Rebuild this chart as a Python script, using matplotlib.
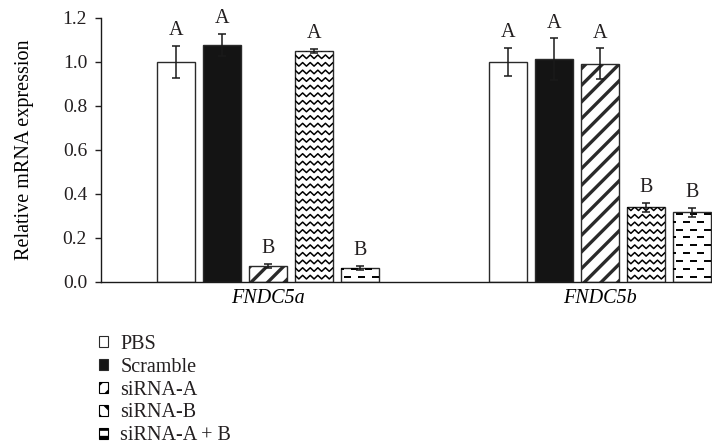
import matplotlib
matplotlib.use("Agg")
import matplotlib.pyplot as plt
import numpy as np
from matplotlib.collections import LineCollection
from matplotlib.patches import Patch

genes = ["FNDC5a", "FNDC5b"]
treatments = ["PBS", "Scramble", "siRNA-A", "siRNA-B", "siRNA-A + B"]

# mean relative expression, one value per gene
means = {
    "PBS": [1.000, 1.000],
    "Scramble": [1.077, 1.012],
    "siRNA-A": [0.073, 0.992],
    "siRNA-B": [1.051, 0.339],
    "siRNA-A + B": [0.064, 0.316],
}
errors = {
    "PBS": [0.074, 0.065],
    "Scramble": [0.052, 0.096],
    "siRNA-A": [0.009, 0.070],
    "siRNA-B": [0.009, 0.020],
    "siRNA-A + B": [0.009, 0.020],
}
letters = {
    "PBS": ["A", "A"],
    "Scramble": ["A", "A"],
    "siRNA-A": ["B", "A"],
    "siRNA-B": ["A", "B"],
    "siRNA-A + B": ["B", "B"],
}

TEXT = "#231f20"
EDGE = "#2a2a2a"
FS = 14.5
plt.rcParams["font.family"] = ["Liberation Serif", "DejaVu Serif"]
plt.rcParams["font.size"] = FS
plt.rcParams["hatch.linewidth"] = 2.4
plt.rcParams["text.color"] = TEXT

fig = plt.figure(figsize=(7.12, 4.48), dpi=100)
ax = fig.add_axes([101 / 712, 1 - 281.7 / 448, 611 / 712, 263.7 / 448])
ax.set_xlim(-0.503, 1.337)
ax.set_ylim(0, 1.2)

# pixels per data unit, used to size the fill textures
p0 = ax.transData.transform((0, 0))
p1 = ax.transData.transform((1, 1))
sx, sy = p1 - p0


def zigzag_fill(bar, period=7.6, amp=3.6, gap=7.6):
    x0, w, h = bar.get_x(), bar.get_width(), bar.get_height()
    half = period / 2 / sx
    xs = np.arange(x0 - 2 * half, x0 + w + 2 * half, half)
    segs = []
    base = gap * 0.6 / sy
    while base < h + gap / sy:
        ys = base + np.where(np.arange(len(xs)) % 2 == 0, amp / 2, -amp / 2) / sy
        segs.append(np.column_stack([xs, ys]))
        base += gap / sy
    lc = LineCollection(segs, colors="black", linewidths=1.1, zorder=2.5)
    ax.add_collection(lc)
    lc.set_clip_path(bar)


def dash_fill(bar, dash=6.5, period=14.0, gap=7.9):
    x0, w, h = bar.get_x(), bar.get_width(), bar.get_height()
    segs = []
    row = 0
    base = min(gap * 0.6, h * sy / 2) / sy
    while base < h:
        xx = x0 + (3.0 + (period / 2 if row % 2 else 0)) / sx - period / sx
        while xx < x0 + w:
            segs.append([(xx, base), (xx + dash / sx, base)])
            xx += period / sx
        base += gap / sy
        row += 1
    lc = LineCollection(segs, colors="black", linewidths=1.4, zorder=2.5)
    ax.add_collection(lc)
    lc.set_clip_path(bar)


styles = {
    "PBS": dict(facecolor="white"),
    "Scramble": dict(facecolor="#141414"),
    "siRNA-A": dict(facecolor="white", hatch="//"),
    "siRNA-B": dict(facecolor="white"),
    "siRNA-A + B": dict(facecolor="white"),
}

x = np.arange(len(genes))
step = 0.1386
width = 0.1145
for i, name in enumerate(treatments):
    pos = x + (i - 2) * step
    bars = ax.bar(pos, means[name], width, edgecolor=EDGE, linewidth=1.0,
                  zorder=2, **styles[name])
    ax.errorbar(pos, means[name], yerr=errors[name], fmt="none", ecolor="#1a1a1a",
                elinewidth=1.1, capsize=2.6, capthick=1.1, zorder=3)
    for bar in bars:
        if name == "siRNA-B":
            zigzag_fill(bar)
        elif name == "siRNA-A + B":
            dash_fill(bar)
    for p, m, e, lab in zip(pos, means[name], errors[name], letters[name]):
        ax.text(p, m + e + 0.048, lab, ha="center", va="baseline", fontsize=FS)

ax.set_xticks(x)
ax.set_xticklabels(genes, style="italic", fontsize=FS)
ax.tick_params(axis="x", length=0, pad=5)
ax.set_yticks(np.arange(0, 1.21, 0.2))
ax.yaxis.set_major_formatter(matplotlib.ticker.FormatStrFormatter("%.1f"))
ax.tick_params(axis="y", direction="out", length=4, width=1.0, pad=6,
               labelsize=14, colors=TEXT)
ax.set_ylabel("Relative mRNA expression", fontsize=FS)
ax.yaxis.set_label_coords(-0.109, 0.5)
for side in ("top", "right"):
    ax.spines[side].set_visible(False)
for side in ("left", "bottom"):
    ax.spines[side].set_linewidth(1.0)
    ax.spines[side].set_color("#1a1a1a")

handles = [
    Patch(facecolor="white", edgecolor=EDGE, linewidth=0.8),
    Patch(facecolor="#141414", edgecolor=EDGE, linewidth=0.8),
    Patch(facecolor="white", edgecolor="black", linewidth=0.8, hatch="//"),
    Patch(facecolor="white", edgecolor="black", linewidth=0.8, hatch="\\\\"),
    Patch(facecolor="white", edgecolor="black", linewidth=0.8, hatch="--"),
]
fig.legend(handles, treatments, loc="upper left", bbox_to_anchor=(99 / 712, 1 - 335 / 448),
           frameon=False, borderpad=0, borderaxespad=0, handlelength=0.45,
           handleheight=0.45, handletextpad=0.6, labelspacing=0.19, fontsize=FS)

fig.savefig("out.png", dpi=100)
plt.close(fig)
